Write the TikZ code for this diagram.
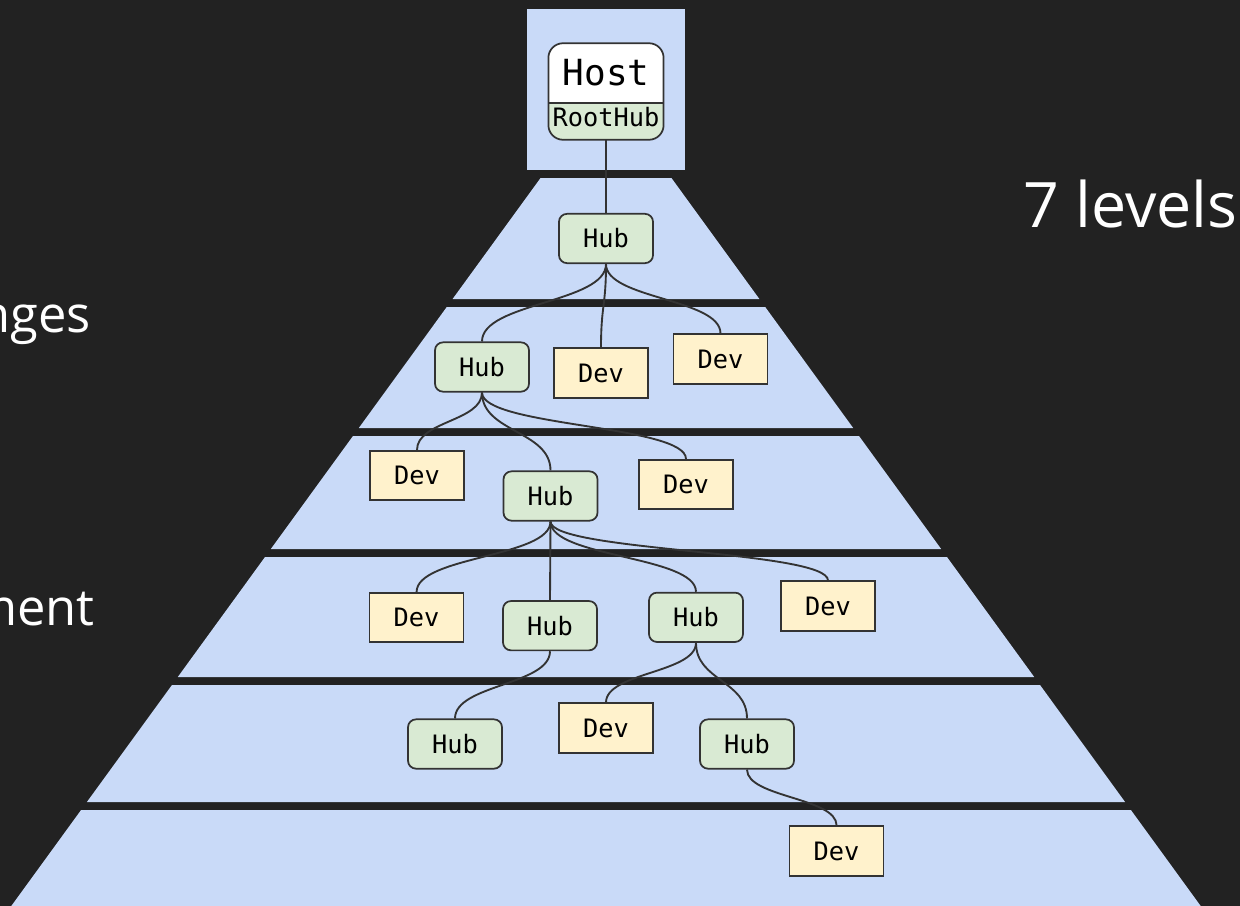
\documentclass[tikz,border=0pt]{standalone}
\usepackage{fontspec}
\setmainfont{Open Sans}
\newfontfamily\nodefont{DejaVu Sans Mono}
\definecolor{bg}{HTML}{222222}
\definecolor{tier}{HTML}{C9DAF8}
\definecolor{hubfill}{HTML}{D9EAD3}
\definecolor{devfill}{HTML}{FFF2CC}
\definecolor{edge}{HTML}{333333}
\begin{document}
\begin{tikzpicture}[x=0.75pt,y=-0.75pt,
  hubbox/.style={draw=edge, fill=hubfill, line width=1.3pt, rounded corners=6pt,
    minimum width=70.5pt, minimum height=37pt, inner sep=0pt,
    font=\nodefont\fontsize{19pt}{22pt}\selectfont},
  devbox/.style={draw=edge, fill=devfill, line width=1.3pt,
    minimum width=70.5pt, minimum height=37pt, inner sep=0pt,
    font=\nodefont\fontsize{19pt}{22pt}\selectfont},
  link/.style={draw=edge, line width=1.4pt},
  sidelabel/.style={text=white, inner sep=0pt, font=\fontsize{38pt}{44pt}\selectfont}]

% canvas
\fill[bg] (0,0) rectangle (1240,906);
\useasboundingbox (0,0) rectangle (1240,906);

% host tier
\fill[tier] (527,9) rectangle (685,170);

% pyramid tiers: half width grows linearly from the apex at y=88
\foreach \t/\b in {178/299, 307/428, 436/549, 557/677, 685/802, 810/906}{
  \fill[tier] ({606-0.727*(\t-88)},\t) -- ({606+0.727*(\t-88)},\t)
    -- ({606+0.727*(\b-88)},\b) -- ({606-0.727*(\b-88)},\b) -- cycle;
}

% side captions
\node[sidelabel, anchor=base west, font=\fontsize{47pt}{54pt}\selectfont] (levels) at (1023,227) {7 levels};
\node[sidelabel, anchor=base east] (capa) at (91,332) {nges};
\node[sidelabel, anchor=base east] (capb) at (95,625) {ment};

% host with root hub
\node[minimum width=86pt, minimum height=72pt, inner sep=0pt] (host) at (606,91.5) {};
\coordinate (split) at (606,103);
\begin{scope}
  \clip[rounded corners=11pt] (host.north west) rectangle (host.south east);
  \fill[white] (host.north west) rectangle (host.east |- split);
  \fill[hubfill] (host.west |- split) rectangle (host.south east);
\end{scope}
\draw[draw=edge, line width=1.3pt, rounded corners=11pt] (host.north west) rectangle (host.south east);
\draw[draw=edge, line width=1.3pt] (host.west |- split) -- (host.east |- split);
\node[inner sep=0pt, font=\nodefont\fontsize{27pt}{30pt}\selectfont] (hostname) at (606,73) {Host};
\node[inner sep=0pt, font=\nodefont\fontsize{19pt}{22pt}\selectfont] (roothub) at (606,117) {RootHub};

% tier 1
\node[hubbox] (hub1) at (606,238.5) {Hub};
% tier 2
\node[hubbox] (hub2) at (482,367) {Hub};
\node[devbox] (deva) at (601,373) {Dev};
\node[devbox] (devb) at (720.5,359) {Dev};
% tier 3
\node[devbox] (devc) at (417,475.5) {Dev};
\node[hubbox] (hub3) at (550.5,496) {Hub};
\node[devbox] (devd) at (686,484.5) {Dev};
% tier 4
\node[devbox] (deve) at (416.6,617.5) {Dev};
\node[hubbox] (hub4a) at (550,625.7) {Hub};
\node[hubbox] (hub4b) at (696,617.3) {Hub};
\node[devbox] (devf) at (828,606) {Dev};
% tier 5
\node[hubbox] (hub5a) at (455,744) {Hub};
\node[devbox] (devg) at (606,728) {Dev};
\node[hubbox] (hub5b) at (747,744) {Hub};
% tier 6
\node[devbox] (devh) at (836.6,851) {Dev};

% connections
\draw[link] (host.south) -- (hub1.north);
\draw[link] (hub1.south) .. controls +(0,39) and +(0,-39) .. (hub2.north);
\draw[link] (hub1.south) .. controls +(0,42) and +(0,-42) .. (deva.north);
\draw[link] (hub1.south) .. controls +(0,35) and +(0,-35) .. (devb.north);
\draw[link] (hub2.south) .. controls +(0,29) and +(0,-29) .. (devc.north);
\draw[link] (hub2.south) .. controls +(0,40) and +(0,-40) .. (hub3.north);
\draw[link] (hub2.south) .. controls +(0,34) and +(0,-34) .. (devd.north);
\draw[link] (hub3.south) .. controls +(0,36) and +(0,-36) .. (deve.north);
\draw[link] (hub3.south) -- (hub4a.north);
\draw[link] (hub3.south) .. controls +(0,36) and +(0,-36) .. (hub4b.north);
\draw[link] (hub3.south) .. controls +(0,30) and +(0,-30) .. (devf.north);
\draw[link] (hub4a.south) .. controls +(0,34) and +(0,-34) .. (hub5a.north);
\draw[link] (hub4b.south) .. controls +(0,30) and +(0,-30) .. (devg.north);
\draw[link] (hub4b.south) .. controls +(0,38) and +(0,-38) .. (hub5b.north);
\draw[link] (hub5b.south) .. controls +(0,28) and +(0,-28) .. (devh.north);
\end{tikzpicture}
\end{document}
